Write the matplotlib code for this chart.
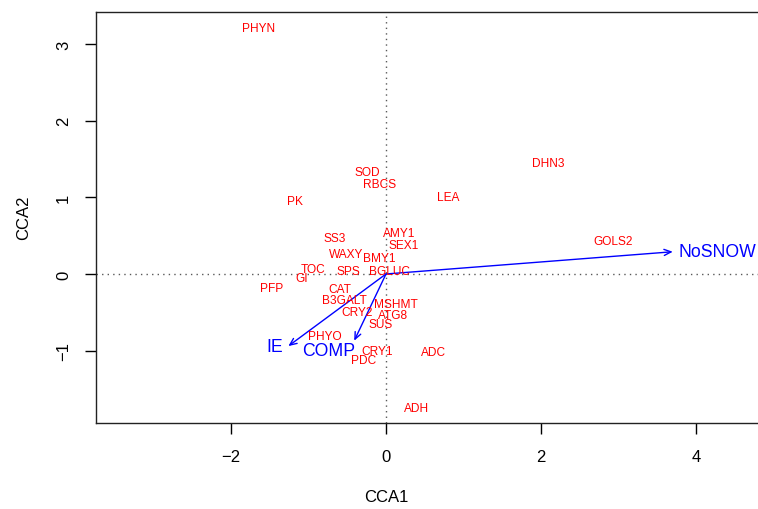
import matplotlib
matplotlib.use("Agg")
import matplotlib.pyplot as plt

plt.rcParams['font.family'] = ['Liberation Sans', 'DejaVu Sans']

# species (gene) scores
genes = ["PHYN", "DHN3", "SOD", "RBCS", "LEA", "PK", "GOLS2", "AMY1", "SEX1",
         "SS3", "WAXY", "BMY1", "TOC", "SPS", "BGLUC", "GI", "PFP", "CAT",
         "B3GALT", "CRY2", "MSHMT", "ATG8", "SUS", "PHYO", "CRY1", "PDC",
         "ADC", "ADH"]
gene_x = [-1.65, 2.09, -0.245, -0.08, 0.80, -1.17, 2.93, 0.17, 0.23,
          -0.66, -0.52, -0.09, -0.94, -0.48, 0.05, -1.09, -1.47, -0.59,
          -0.54, -0.37, 0.13, 0.09, -0.065, -0.79, -0.11, -0.29,
          0.61, 0.39]
gene_y = [3.21, 1.45, 1.33, 1.17, 1.00, 0.95, 0.43, 0.53, 0.38,
          0.47, 0.26, 0.21, 0.065, 0.04, 0.04, -0.05, -0.18, -0.20,
          -0.34, -0.50, -0.39, -0.53, -0.65, -0.81, -1.00, -1.12,
          -1.02, -1.75]

# environmental biplot arrows
env = ["NoSNOW", "IE", "COMP"]
env_x = [3.70, -1.26, -0.41]
env_y = [0.29, -0.94, -0.87]
env_lab_x = [4.28, -1.43, -0.74]
env_lab_y = [0.29, -0.94, -1.00]

W, H = 758, 510
fig = plt.figure(figsize=(W / 100, H / 100), dpi=100)
ax_left, ax_right, ax_top, ax_bottom = 96, 770, 13, 424
ax = fig.add_axes([ax_left / W, (H - ax_bottom) / H,
                   (ax_right - ax_left) / W, (ax_bottom - ax_top) / H])
ax.set_xlim(-3.742, 4.955)
ax.set_ylim(-1.943, 3.416)

ax.axhline(0, color='0.35', linestyle=(0, (1, 3)), linewidth=1, zorder=1)
ax.axvline(0, color='0.35', linestyle=(0, (1, 3)), linewidth=1, zorder=1)

for name, x, y in zip(genes, gene_x, gene_y):
    ax.text(x, y, name, color='#FF0000', fontsize=8.6, ha='center', va='center', zorder=3)

for name, x, y, lx, ly in zip(env, env_x, env_y, env_lab_x, env_lab_y):
    ax.annotate("", xy=(x, y), xytext=(0, 0),
                arrowprops=dict(arrowstyle='->,head_length=0.5,head_width=0.22',
                                color='#0000FF', lw=1.0, shrinkA=0, shrinkB=0),
                zorder=2)
    ax.text(lx, ly, name, color='#0000FF', fontsize=12.7, ha='center', va='center', zorder=3)

ax.set_xticks([-2, 0, 2, 4])
ax.set_yticks([-1, 0, 1, 2, 3])
ax.set_xticklabels(["\u22122", "0", "2", "4"])
ax.set_yticklabels(["\u22121", "0", "1", "2", "3"], rotation=90, va='center')
ax.tick_params(direction='out', length=8, width=1, labelsize=12, colors='black')
ax.tick_params(axis='x', pad=11)
ax.tick_params(axis='y', pad=10)
for s in ax.spines.values():
    s.set_linewidth(1)
    s.set_color('#222222')

fig.text(386 / W, 1 - 498 / H, "CCA1", ha='center', va='center', fontsize=12)
fig.text(24 / W, 1 - 218 / H, "CCA2", ha='center', va='center', fontsize=12, rotation=90)

fig.savefig("out.png", dpi=100)
